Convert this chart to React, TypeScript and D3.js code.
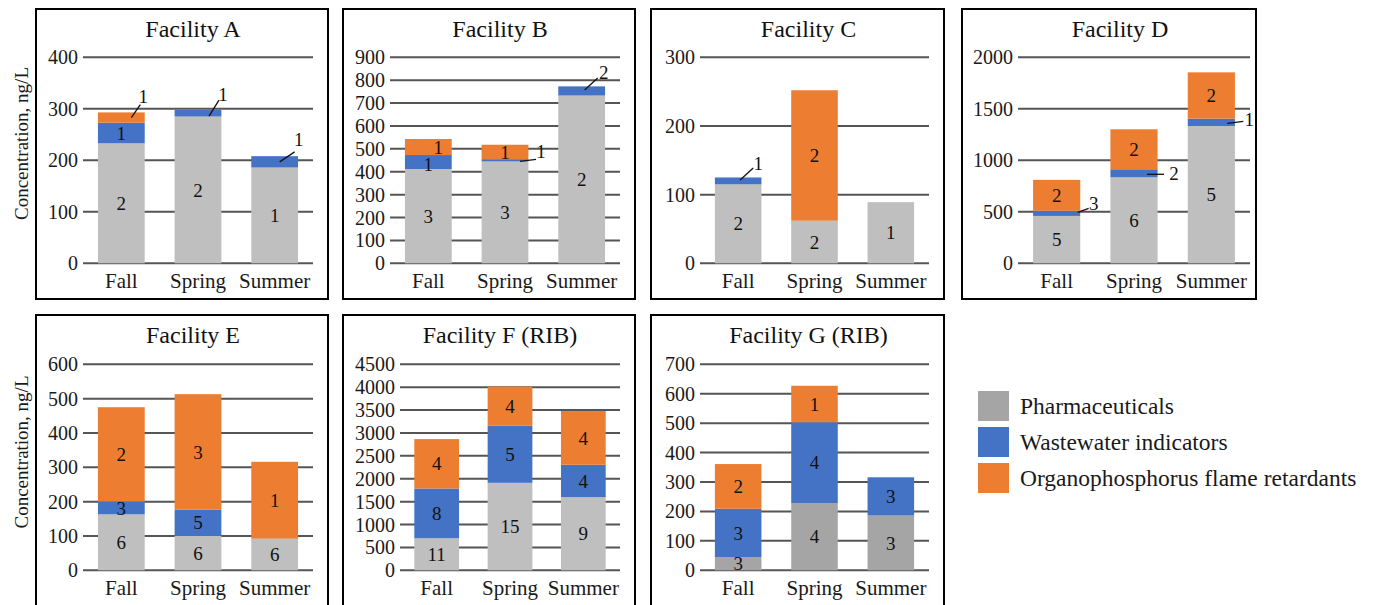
import * as d3 from 'd3';

const SEASONS = ['Fall', 'Spring', 'Summer'];
const FACILITIES = ['Facility A', 'Facility B', 'Facility C', 'Facility D', 'Facility E', 'Facility F (RIB)', 'Facility G (RIB)'];
const SERIES = ['Pharmaceuticals', 'Wastewater indicators', 'Organophosphorus flame retardants'];

const Y_MAX = [400, 900, 300, 2000, 600, 4500, 700];
const Y_STEP = [100, 100, 100, 500, 100, 500, 100];

// concentrations, ng/L, per facility -> [Fall, Spring, Summer]
const PHARMA = [[233, 285, 186], [412, 445, 733], [115, 62, 89], [460, 835, 1333], [163, 100, 92], [700, 1911, 1597], [45, 228, 186]];
const WASTEWATER = [[40, 13, 22], [61, 10, 40], [10, 0, 0], [50, 78, 71], [37, 77, 0], [1087, 1247, 708], [164, 275, 130]];
const OPFR = [[20, 0, 0], [70, 63, 0], [0, 190, 0], [300, 388, 450], [275, 336, 224], [1079, 853, 1174], [152, 124, 0]];

// number of detected compounds (bar labels)
const PHARMA_N = [[2, 2, 1], [3, 3, 2], [2, 2, 1], [5, 6, 5], [6, 6, 6], [11, 15, 9], [3, 4, 3]];
const WASTEWATER_N = [[1, 1, 1], [1, 1, 2], [1, 0, 0], [3, 2, 1], [3, 5, 0], [8, 5, 4], [3, 4, 3]];
const OPFR_N = [[1, 0, 0], [1, 1, 0], [0, 2, 0], [2, 2, 2], [2, 3, 1], [4, 4, 4], [2, 1, 0]];

const COLORS = ['#bfbfbf', '#4472c4', '#ed7d31'];
const DARK_GRAY = '#a5a5a5';
const FONT = '"Liberation Serif", "Times New Roman", serif';

// panel frames: box left/right, plot left/right, row
const PANELS = [
    {box: [36, 328], plot: [83, 313], row: 0},
    {box: [343, 635], plot: [390, 620], row: 0},
    {box: [651, 944], plot: [700, 929], row: 0},
    {box: [962, 1256], plot: [1018, 1250], row: 0},
    {box: [36, 328], plot: [83, 313], row: 1},
    {box: [343, 635], plot: [400, 620], row: 1},
    {box: [651, 944], plot: [700, 929], row: 1}
];
const ROWS = [
    {boxTop: 9, boxBottom: 299, top: 57.3, zero: 263.3},
    {boxTop: 315, boxBottom: 609, top: 364.3, zero: 570.3}
];

// labels drawn off the bar with a leader line (offsets from segment centre)
const CALLOUTS = [
    {p: 0, s: 0, k: 2, line: [10, 0, 19, -13], lab: [22, -21]},
    {p: 0, s: 1, k: 1, line: [11, 3, 21, -13], lab: [25, -19]},
    {p: 0, s: 2, k: 1, line: [5, 0, 20, -10], lab: [24, -22]},
    {p: 1, s: 1, k: 1, line: [15, 1, 31, -1], lab: [36, -9]},
    {p: 1, s: 2, k: 1, line: [3, -1, 16, -13], lab: [22, -19]},
    {p: 2, s: 0, k: 1, line: [2, -1, 15, -13], lab: [20, -18]},
    {p: 3, s: 0, k: 1, line: [21, -1, 32, -5], lab: [37, -10]},
    {p: 3, s: 1, k: 1, line: [13, 1, 30, 1], lab: [40, 0]},
    {p: 3, s: 2, k: 1, line: [16, 1, 32, -1], lab: [38, -3]}
];
// small shifts of in-bar labels
const NUDGES = [
    {p: 1, s: 0, k: 2, dx: 10, dy: 0},
    {p: 1, s: 0, k: 1, dx: 0, dy: 2}
];

function Panel({i}: {i: number}) {
    const frame = PANELS[i];
    const row = ROWS[frame.row];
    const x = d3.scaleBand().domain(SEASONS).range(frame.plot).paddingInner(0.39).paddingOuter(0.195);
    const y = d3.scaleLinear().domain([0, Y_MAX[i]]).range([row.zero, row.top]);
    const ticks = d3.range(0, Y_MAX[i] + 1, Y_STEP[i]);

    const rows = SEASONS.map((s, j) => ({
        season: s,
        v0: PHARMA[i][j], v1: WASTEWATER[i][j], v2: OPFR[i][j],
        n: [PHARMA_N[i][j], WASTEWATER_N[i][j], OPFR_N[i][j]]
    }));
    const stack = d3.stack<any>().keys(['v0', 'v1', 'v2'])(rows);
    const colors = i === 6 ? [DARK_GRAY, COLORS[1], COLORS[2]] : COLORS;

    const boxW = frame.box[1] - frame.box[0];
    const titleX = frame.box[0] + boxW / 2 + 11;

    return (
        <g>
            <rect x={frame.box[0]} y={row.boxTop} width={boxW} height={row.boxBottom - row.boxTop}
                fill="#fff" stroke="#000" strokeWidth={2} />
            <text x={titleX} y={row.boxTop + 28} textAnchor="middle" fontSize={24} fill="#111">{FACILITIES[i]}</text>

            {ticks.map((t) => (
                <g key={t}>
                    <line x1={frame.plot[0]} x2={frame.plot[1]} y1={y(t)} y2={y(t)} stroke="#555" strokeWidth={2} />
                    <text x={frame.plot[0] - 5} y={y(t)} dy="0.35em" textAnchor="end" fontSize={20} fill="#1a1a1a">{t}</text>
                </g>
            ))}

            {stack.map((layer, k) => layer.map((d, j) => {
                const v = d[1] - d[0];
                if (v <= 0) return null;
                const bx = x(SEASONS[j])!;
                const cx = bx + x.bandwidth() / 2;
                const cy = (y(d[0]) + y(d[1])) / 2;
                const n = rows[j].n[k];
                const call = CALLOUTS.find((c) => c.p === i && c.s === j && c.k === k);
                const nudge = NUDGES.find((c) => c.p === i && c.s === j && c.k === k) || {dx: 0, dy: 0};
                return (
                    <g key={`${k}-${j}`}>
                        <rect x={bx} y={y(d[1])} width={x.bandwidth()} height={y(d[0]) - y(d[1])} fill={colors[k]} />
                        {call ? (
                            <g>
                                <line x1={cx + call.line[0]} y1={cy + call.line[1]} x2={cx + call.line[2]} y2={cy + call.line[3]}
                                    stroke="#111" strokeWidth={1.3} />
                                <text x={cx + call.lab[0]} y={cy + call.lab[1]} dy="0.35em" textAnchor="middle" fontSize={19} fill="#111">{n}</text>
                            </g>
                        ) : (
                            <text x={cx + nudge.dx} y={cy + nudge.dy} dy="0.35em" textAnchor="middle" fontSize={19} fill="#111">{n}</text>
                        )}
                    </g>
                );
            }))}

            {SEASONS.map((s) => (
                <text key={s} x={x(s)! + x.bandwidth() / 2} y={row.zero + 25} textAnchor="middle" fontSize={21} fill="#1a1a1a">{s}</text>
            ))}
        </g>
    );
}

export default function App() {
    const legendColors = [DARK_GRAY, COLORS[1], COLORS[2]];
    return (
        <div style={{position: 'absolute', left: 0, top: 0}}>
            <svg width={1374} height={605} style={{display: 'block', fontFamily: FONT}}>
                <rect width={1374} height={605} fill="#fff" />
                {FACILITIES.map((_, i) => <Panel key={i} i={i} />)}

                {/* y axis titles */}
                <text transform="translate(21,143.5) rotate(-90)" dy="0.35em" textAnchor="middle" fontSize={19} fill="#1a1a1a">Concentration, ng/L</text>
                <text transform="translate(21,452) rotate(-90)" dy="0.35em" textAnchor="middle" fontSize={19} fill="#1a1a1a">Concentration, ng/L</text>

                {/* legend */}
                {SERIES.map((s, k) => (
                    <g key={s} transform={`translate(978, ${391 + k * 36})`}>
                        <rect width={31} height={30} fill={legendColors[k]} />
                        <text x={42} y={23} fontSize={23.5} fill="#1a1a1a">{s}</text>
                    </g>
                ))}
            </svg>
        </div>
    );
}
